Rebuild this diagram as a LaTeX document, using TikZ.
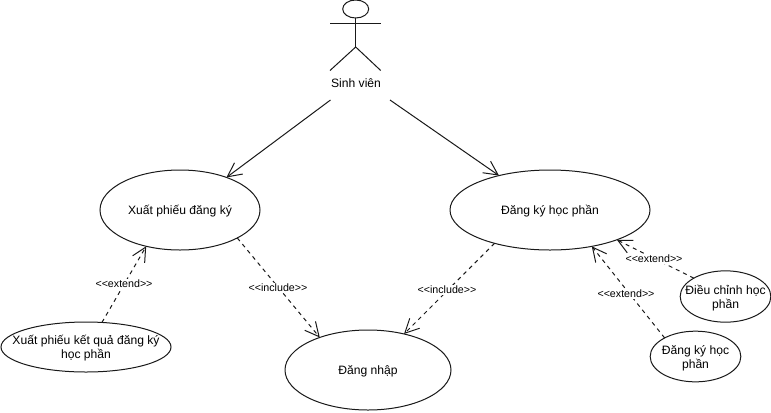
\documentclass[tikz,border=0pt]{standalone}
\usepackage{fontspec}
\setmainfont{Liberation Sans}
\usetikzlibrary{arrows.meta,shapes.geometric}
\tikzset{
  x=0.75pt,y=-0.75pt,
  line/.style={line width=0.75pt,black!90},
  usecase/.style={draw=black!90,line width=0.75pt,ellipse,inner sep=0pt,outer sep=0pt,fill=white},
  uclabel/.style={font=\fontsize{9.1}{10.5}\selectfont,align=center,inner sep=0pt,text=black,yshift=-1.1pt},
  stereo/.style={font=\fontsize{8}{9}\selectfont,inner sep=0.6pt,fill=white,text=black},
  assoc/.style={line,-{Straight Barb[length=10.5pt,width=10.5pt,line width=0.75pt]}},
  dep/.style={line,dash pattern=on 3pt off 3pt,-{Straight Barb[length=10.5pt,width=10.5pt,line width=0.75pt,line cap=butt]}},
}
\begin{document}
\begin{tikzpicture}
\useasboundingbox[fill=white] (0,0) rectangle (771,412);
% use cases
\node[usecase,minimum width=120pt,minimum height=60pt,label={[uclabel]center:Xuất phiếu đăng ký}] (xp) at (180,210) {};
\node[usecase,minimum width=150pt,minimum height=60pt,label={[uclabel]center:Đăng ký học phần}] (dk) at (550,210) {};
\node[usecase,minimum width=124.5pt,minimum height=60pt,label={[uclabel]center:Đăng nhập}] (dn) at (368,370) {};
\node[usecase,minimum width=127.5pt,minimum height=37.5pt,label={[uclabel]center:Xuất phiếu kết quả đăng ký\\học phần}] (kq) at (86,347) {};
\node[usecase,minimum width=68pt,minimum height=38.5pt,label={[uclabel]center:Điều chỉnh học\\phần}] (cc) at (725.5,296.5) {};
\node[usecase,minimum width=68pt,minimum height=38pt,label={[uclabel]center:Đăng ký học\\phần}] (dh) at (695.5,356.5) {};
% actor
\node[draw=black!90,line width=0.75pt,ellipse,inner sep=0pt,outer sep=0pt,minimum width=19.5pt,minimum height=13.5pt] (head) at (355.7,9) {};
\coordinate (hip) at (355.7,47);
\coordinate (armL) at (330,23.7);
\coordinate (armR) at (380.7,23.7);
\coordinate (legL) at (330,70.5);
\coordinate (legR) at (380.7,70.5);
\draw[line] (head.south) -- (hip);
\draw[line] (armL) -- (armR);
\draw[line] (legL) -- (hip) -- (legR);
\node[uclabel,yshift=1.1pt] (sv) at (356,83) {Sinh viên};
% associations
\coordinate (svL) at (330.5,100);
\coordinate (svR) at (390,100);
\draw[assoc] (svL) -- (xp.35.7);
\draw[assoc] (svR) -- (dk.146.3);
% dependencies
\draw[dep] (kq.57) -- (xp.227.5);
\draw[dep] (xp.-26.6) -- (dn.146.9);
\draw[dep] (dk.211) -- (dn.45);
\draw[dep] (cc.150) -- (dk.-24.4);
\draw[dep] (dh.149) -- (dk.-41.4);
% stereotype labels
\node[stereo] (e1) at (124,284) {<{}<extend>{}>};
\node[stereo] (i1) at (278,288) {<{}<include>{}>};
\node[stereo] (i2) at (447,290) {<{}<include>{}>};
\node[stereo] (e2) at (654,259) {<{}<extend>{}>};
\node[stereo] (e3) at (626,294) {<{}<extend>{}>};
\end{tikzpicture}
\end{document}
